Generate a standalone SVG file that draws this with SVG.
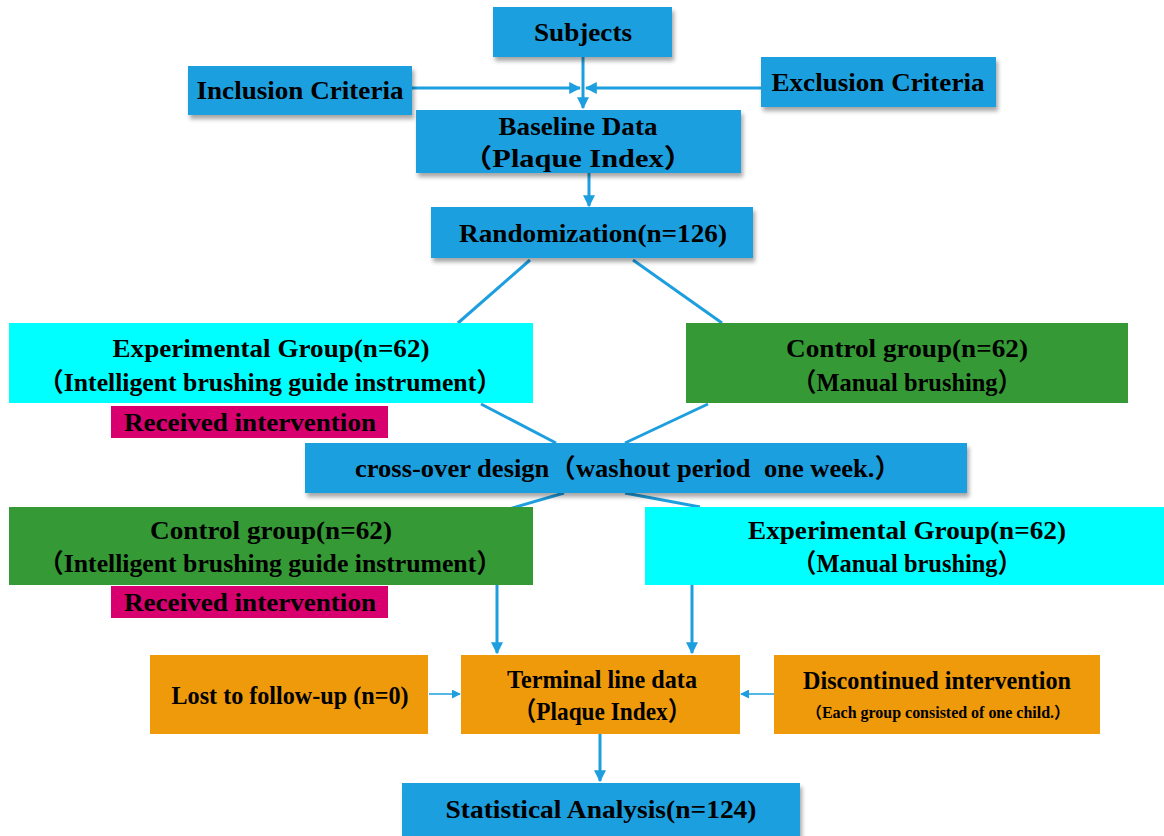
<svg xmlns="http://www.w3.org/2000/svg" width="1164" height="836" viewBox="0 0 1164 836">
<style>
.blue{fill:#1d9fdf}
.cyan{fill:#00ffff}
.green{fill:#359a35}
.mag{fill:#d8006f}
.orange{fill:#ee9a0b}
text{font-family:"Liberation Serif","Noto Sans CJK SC",serif;font-weight:bold;font-size:26px;fill:#000;text-anchor:middle;dominant-baseline:central;white-space:pre}
.small{font-size:16px}
.ln{stroke:#1d9fdf;stroke-width:3;fill:none}
.thin{stroke:#1d9fdf;stroke-width:1.5;fill:none}
</style>
<defs>
<filter id="sh" x="-10%" y="-20%" width="120%" height="150%">
<feDropShadow dx="2" dy="4" stdDeviation="2" flood-color="#000" flood-opacity="0.35"/>
</filter>
<marker id="ah" viewBox="0 0 10 10" refX="9" refY="5" markerWidth="4" markerHeight="4" orient="auto" markerUnits="strokeWidth">
<path d="M0,0 L10,5 L0,10 z" fill="#1d9fdf"/>
</marker>
<marker id="ahs" viewBox="0 0 10 10" refX="9" refY="5" markerWidth="6" markerHeight="6" orient="auto" markerUnits="strokeWidth">
<path d="M0,0 L10,5 L0,10 z" fill="#1d9fdf"/>
</marker>
</defs>

<g id="connectors">
<line class="ln" x1="583" y1="57" x2="583" y2="108" marker-end="url(#ah)"/>
<line class="ln" x1="412" y1="88" x2="580" y2="88" marker-end="url(#ah)"/>
<line class="ln" x1="761" y1="88" x2="586" y2="88" marker-end="url(#ah)"/>
<line class="ln" x1="589" y1="173" x2="589" y2="206" marker-end="url(#ah)"/>
<line class="ln" x1="530" y1="260" x2="458" y2="323"/>
<line class="ln" x1="633" y1="260" x2="722" y2="323"/>
<line class="ln" x1="481" y1="404" x2="556" y2="443"/>
<line class="ln" x1="708" y1="404" x2="625" y2="443"/>
<line class="ln" x1="564" y1="493" x2="481" y2="517"/>
<line class="ln" x1="625" y1="493" x2="700" y2="507"/>
<line class="ln" x1="497" y1="585" x2="497" y2="653" marker-end="url(#ah)"/>
<line class="ln" x1="692" y1="585" x2="692" y2="653" marker-end="url(#ah)"/>
<line class="thin" x1="429" y1="694" x2="460" y2="694" marker-end="url(#ahs)"/>
<line class="thin" x1="774" y1="694" x2="741" y2="694" marker-end="url(#ahs)"/>
<line class="ln" x1="600" y1="734" x2="600" y2="781" marker-end="url(#ah)"/>
</g>

<g id="subjects"><rect class="blue" filter="url(#sh)" x="493" y="7" width="179" height="50"/><text x="583" y="32" textLength="98" lengthAdjust="spacingAndGlyphs">Subjects</text></g>
<g id="inclusion"><rect class="blue" filter="url(#sh)" x="188" y="66" width="224" height="49"/><text x="300" y="90" textLength="207" lengthAdjust="spacingAndGlyphs">Inclusion Criteria</text></g>
<g id="exclusion"><rect class="blue" filter="url(#sh)" x="761" y="57" width="235" height="50"/><text x="878" y="82" textLength="213" lengthAdjust="spacingAndGlyphs">Exclusion Criteria</text></g>
<g id="baseline"><rect class="blue" filter="url(#sh)" x="416" y="110" width="325" height="63"/><text x="578" y="126" textLength="159" lengthAdjust="spacingAndGlyphs">Baseline Data</text><text x="578" y="158" textLength="232" lengthAdjust="spacingAndGlyphs">（Plaque Index）</text></g>
<g id="randomization"><rect class="blue" filter="url(#sh)" x="431" y="207" width="322" height="51"/><text x="593" y="233" textLength="268" lengthAdjust="spacingAndGlyphs">Randomization(n=126)</text></g>

<g id="exp1"><rect class="cyan" x="9" y="323" width="524" height="80"/><text x="271" y="348" textLength="317" lengthAdjust="spacingAndGlyphs">Experimental Group(n=62)</text><text x="270" y="382" textLength="464" lengthAdjust="spacingAndGlyphs">（Intelligent brushing guide instrument）</text></g>
<g id="ctrl1"><rect class="green" x="686" y="323" width="442" height="80"/><text x="907" y="348" textLength="242" lengthAdjust="spacingAndGlyphs">Control group(n=62)</text><text x="907" y="382" textLength="230" lengthAdjust="spacingAndGlyphs">（Manual brushing）</text></g>
<g id="recv1"><rect class="mag" x="111" y="406" width="277" height="32"/><text x="250" y="422" textLength="252" lengthAdjust="spacingAndGlyphs">Received intervention</text></g>

<g id="crossover"><rect class="blue" filter="url(#sh)" x="305" y="443" width="662" height="50"/><text x="628" y="468" textLength="546" lengthAdjust="spacingAndGlyphs" xml:space="preserve">cross-over design（washout period  one week.）</text></g>

<g id="ctrl2"><rect class="green" x="9" y="507" width="524" height="78"/><text x="271" y="530" textLength="242" lengthAdjust="spacingAndGlyphs">Control group(n=62)</text><text x="270" y="563" textLength="464" lengthAdjust="spacingAndGlyphs">（Intelligent brushing guide instrument）</text></g>
<g id="exp2"><rect class="cyan" x="645" y="507" width="519" height="78"/><text x="907" y="530" textLength="318" lengthAdjust="spacingAndGlyphs">Experimental Group(n=62)</text><text x="907" y="563" textLength="230" lengthAdjust="spacingAndGlyphs">（Manual brushing）</text></g>
<g id="recv2"><rect class="mag" x="111" y="586" width="277" height="32"/><text x="250" y="602" textLength="252" lengthAdjust="spacingAndGlyphs">Received intervention</text></g>

<g id="lost"><rect class="orange" x="150" y="655" width="278" height="79"/><text x="290" y="695" textLength="237" lengthAdjust="spacingAndGlyphs">Lost to follow-up (n=0)</text></g>
<g id="terminal"><rect class="orange" x="461" y="655" width="279" height="79"/><text x="602" y="679" textLength="190" lengthAdjust="spacingAndGlyphs">Terminal line data</text><text x="602" y="711" textLength="178" lengthAdjust="spacingAndGlyphs">（Plaque Index）</text></g>
<g id="discontinued"><rect class="orange" x="774" y="655" width="326" height="79"/><text x="937" y="680" textLength="268" lengthAdjust="spacingAndGlyphs">Discontinued intervention</text><text class="small" x="938" y="712" textLength="264" lengthAdjust="spacingAndGlyphs">（Each group consisted of one child.）</text></g>

<g id="statistical"><rect class="blue" filter="url(#sh)" x="402" y="783" width="398" height="53"/><text x="601" y="809" textLength="311" lengthAdjust="spacingAndGlyphs">Statistical Analysis(n=124)</text></g>
</svg>
